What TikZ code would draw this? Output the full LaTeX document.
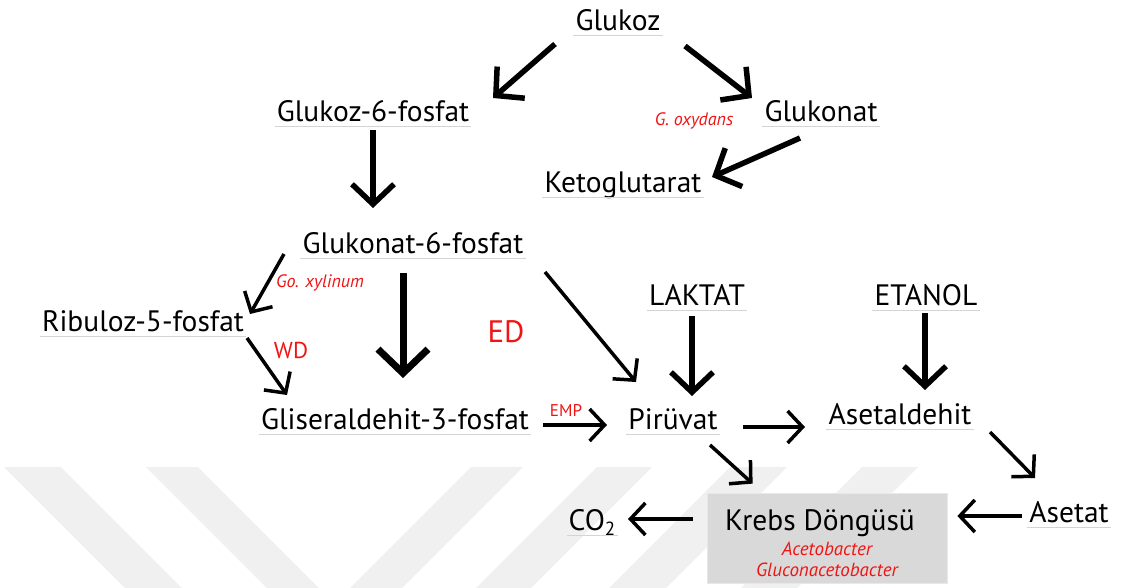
\documentclass[tikz,border=0pt]{standalone}
\usepackage{fontspec}
\setmainfont{PT Sans}
\usetikzlibrary{arrows.meta,calc}
\definecolor{wm}{RGB}{240,240,240}
\definecolor{ul}{RGB}{212,212,212}
\definecolor{kb}{RGB}{217,217,217}
\definecolor{rd}{RGB}{240,20,20}
\begin{document}
\begin{tikzpicture}[x=1pt,y=-1pt,
  lbl/.style={font=\fontsize{29.5}{31}\selectfont, inner sep=0pt, anchor=base},
  red/.style={text=rd, inner sep=0pt, anchor=base},
  redi/.style={red, font=\fontsize{18}{20}\selectfont\itshape},
  uline/.style={draw=ul, line width=1pt},
  big/.style={line width=5.5pt, -{Straight Barb[length=20pt,width=42pt]}},
  huge/.style={line width=7pt, -{Straight Barb[length=24pt,width=50pt]}},
  thin/.style={line width=3.5pt, -{Straight Barb[length=15pt,width=32pt]}},
  kbox/.style={fill=kb, draw=kb!60!white, line width=0.8pt, minimum width=240pt, minimum height=90pt, inner sep=0pt}
]
\useasboundingbox (0,0) rectangle (1121,588);
% watermark stripes
\foreach \a/\b in {4/61,146/198}{
  \fill[wm] (\a,467) -- (\b,467) -- (\b+121,588) -- (\a+121,588) -- cycle;}
\foreach \a/\b in {471/523,597/652,730/787,862/918}{
  \fill[wm] (\a,467) -- (\b,467) -- (\b-121,588) -- (\a-121,588) -- cycle;}

% nodes
\node[lbl] (glc)  at (618,31)  {Glukoz};
\node[lbl] (g6p)  at (373,122) {Glukoz-6-fosfat};
\node[lbl] (gln)  at (821,122) {Glukonat};
\node[lbl] (keto) at (623,193) {Ketoglutarat};
\node[lbl] (gn6p) at (413,253) {Glukonat-6-fosfat};
\node[lbl] (ribu) at (143,331) {Ribuloz-5-fosfat};
\node[lbl] (lak)  at (697,305) {LAKTAT};
\node[lbl] (eta)  at (926,305) {ETANOL};
\node[lbl] (gap)  at (395,429) {Gliseraldehit-3-fosfat};
\node[lbl] (pyr)  at (673,429) {Pirüvat};
\node[lbl] (asd)  at (900,424) {Asetaldehit};
\node[lbl] (ase)  at (1069,522) {Asetat};
\node[lbl] (co2)  at (592,530) {CO\raisebox{-0.35ex}{\fontsize{19}{20}\selectfont 2}};
\node[kbox] (krebs) at (827,538) {};
\node[lbl] (krebst) at (820,530) {Krebs Döngüsü};
\node[redi, font=\fontsize{19}{21}\selectfont\itshape] (acb) at (827,555) {Acetobacter};
\node[redi, font=\fontsize{19}{21}\selectfont\itshape] (gacb) at (827,576) {Gluconacetobacter};

% underlines
\foreach \n in {glc,g6p,gln,keto,gn6p,ribu,lak,eta,gap,pyr,asd,ase,co2}{
  \draw[uline] ([xshift=-2pt,yshift=-5pt]\n.base west) -- ([xshift=2pt,yshift=-5pt]\n.base east);}

% red labels
\node[redi] (gox) at (694,126) {G. oxydans};
\node[redi] (gxy) at (320,287) {Go. xylinum};
\node[red, font=\fontsize{23}{25}\selectfont] (wd) at (291,358) {WD};
\node[red, font=\fontsize{31}{33}\selectfont] (ed) at (506,342) {ED};
\node[red, font=\fontsize{17}{19}\selectfont] (emp) at (566,416) {EMP};

% connectors
\draw[big]  ($(glc.base)+(-63,13)$) -- ($(g6p.base)+(120,-24)$);
\draw[big]  ($(glc.base)+(67,15)$) -- ($(gln.base)+(-69,-24)$);
\draw[big]  ($(gln.base)+(-21,16)$) -- ($(keto.base)+(89,-16)$);
\draw[big]  ($(g6p.base)+(0,8)$) -- ($(gn6p.base)+(-40,-45)$);
\draw[thin] ($(gn6p.base)+(-129,1)$) -- ($(ribu.base)+(107,-17)$);
\draw[huge] ($(gn6p.base)+(-10,20)$) -- ($(gap.base)+(8,-51)$);
\draw[thin] ($(gn6p.base)+(132,19)$) -- ($(pyr.base)+(-37,-47)$);
\draw[thin] ($(ribu.base)+(104,7)$) -- ($(gap.base)+(-108,-34)$);
\draw[thin] ($(gap.base)+(148,-4)$) -- ($(pyr.base)+(-66,-4)$);
\draw[big]  ($(lak.base)+(-5,11)$) -- ($(pyr.base)+(19,-33)$);
\draw[big]  ($(eta.base)+(-1,8)$) -- ($(asd.base)+(25,-34)$);
\draw[thin] ($(pyr.base)+(70,-2)$) -- ($(asd.base)+(-95,3)$);
\draw[thin] ($(pyr.base)+(37,16)$) -- ($(krebs.north west)+(46,-9)$);
\draw[thin] ($(asd.base)+(90,8)$) -- ($(ase.base)+(-34,-44)$);
\draw[thin] ($(ase.base)+(-47,-6)$) -- ($(krebs.east)+(10,-22)$);
\draw[thin] ($(krebs.west)+(-14,-19)$) -- ($(co2.base)+(36,-11)$);
\end{tikzpicture}
\end{document}
